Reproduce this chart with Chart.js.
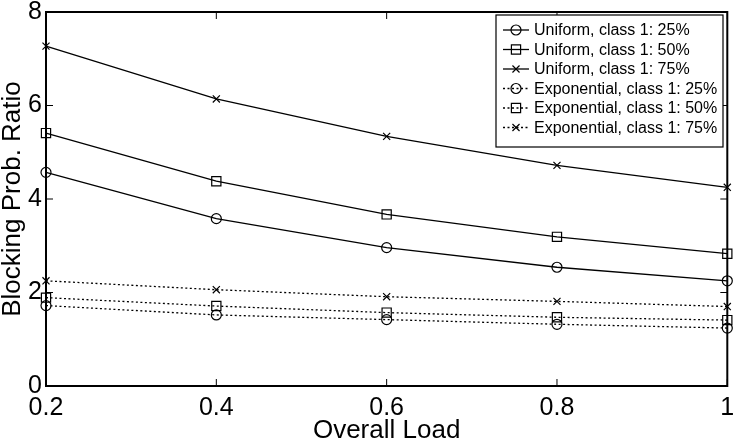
<!DOCTYPE html>
<html>
<head>
<meta charset="utf-8">
<script src="https://cdn.jsdelivr.net/npm/chart.js@4"></script>
<style>
  html, body { margin: 0; padding: 0; background: #fff; }
  #wrap { width: 735px; height: 446px; }
</style>
</head>
<body>
<div id="wrap"><canvas id="blockChart" width="735" height="446"></canvas></div>
<script>
// values
const loads = [0.2, 0.4, 0.6, 0.8, 1.0];
const xTicks = [0.2, 0.4, 0.6, 0.8, 1];
const yTicks = [0, 2, 4, 6, 8];

const uniform25 = [4.57, 3.58, 2.96, 2.54, 2.25];
const uniform50 = [5.41, 4.38, 3.67, 3.19, 2.83];
const uniform75 = [7.27, 6.14, 5.34, 4.72, 4.25];
const expo25 = [1.72, 1.52, 1.42, 1.32, 1.24];
const expo50 = [1.89, 1.71, 1.57, 1.47, 1.41];
const expo75 = [2.25, 2.06, 1.91, 1.81, 1.70];

const FONT = "'Liberation Sans', Arial, Helvetica, sans-serif";

const markerSize = { circle: 5, rect: 6.5, crossRot: 5 };

function series(label, values, marker, dotted) {
  return {
    label: label,
    data: loads.map((x, i) => ({ x: x, y: values[i] })),
    borderColor: "#000",
    borderWidth: 1.3,
    borderDash: dotted ? [2, 2.5] : [],
    pointStyle: marker,
    pointRadius: markerSize[marker],
    pointHoverRadius: markerSize[marker],
    pointBorderColor: "#000",
    pointBackgroundColor: "rgba(0,0,0,0)",
    pointBorderWidth: 1.2,
    tension: 0,
    fill: false,
    clip: false,
  };
}

const datasets = [
  series("Uniform, class 1: 25%", uniform25, "circle", false),
  series("Uniform, class 1: 50%", uniform50, "rect", false),
  series("Uniform, class 1: 75%", uniform75, "crossRot", false),
  series("Exponential, class 1: 25%", expo25, "circle", true),
  series("Exponential, class 1: 50%", expo50, "rect", true),
  series("Exponential, class 1: 75%", expo75, "crossRot", true),
];

// MATLAB style box: frame + inward ticks on all four sides
const boxFrame = {
  id: "boxFrame",
  afterDatasetsDraw(chart) {
    const { ctx, chartArea: a, scales } = chart;
    ctx.save();
    ctx.strokeStyle = "#000";
    ctx.lineWidth = 1;
    const len = 7;
    ctx.beginPath();
    scales.x.ticks.forEach((t) => {
      const px = scales.x.getPixelForValue(t.value);
      ctx.moveTo(px, a.bottom); ctx.lineTo(px, a.bottom - len);
      ctx.moveTo(px, a.top); ctx.lineTo(px, a.top + len);
    });
    scales.y.ticks.forEach((t) => {
      const py = scales.y.getPixelForValue(t.value);
      ctx.moveTo(a.left, py); ctx.lineTo(a.left + len, py);
      ctx.moveTo(a.right, py); ctx.lineTo(a.right - len, py);
    });
    ctx.stroke();
    ctx.lineWidth = 2;
    ctx.strokeRect(a.left, a.top, a.right - a.left, a.bottom - a.top);
    ctx.restore();
  },
};

// legend with line sample + marker, like the original
const lineLegend = {
  id: "lineLegend",
  afterDraw(chart) {
    const { ctx } = chart;
    const bx = 496, by = 15, bw = 227, bh = 132;
    ctx.save();
    ctx.fillStyle = "#fff";
    ctx.fillRect(bx, by, bw, bh);
    ctx.strokeStyle = "#000";
    ctx.lineWidth = 1.2;
    ctx.setLineDash([]);
    ctx.strokeRect(bx, by, bw, bh);
    ctx.font = "16px " + FONT;
    ctx.textBaseline = "middle";
    ctx.textAlign = "left";
    chart.data.datasets.forEach((ds, i) => {
      const cy = by + 15 + i * 19.5;
      ctx.strokeStyle = "#000";
      ctx.lineWidth = 1.3;
      ctx.setLineDash(ds.borderDash);
      ctx.beginPath();
      ctx.moveTo(bx + 7, cy);
      ctx.lineTo(bx + 33, cy);
      ctx.stroke();
      ctx.setLineDash([]);
      ctx.lineWidth = 1.2;
      ctx.fillStyle = "rgba(0,0,0,0)";
      Chart.helpers.drawPoint(ctx, {
        pointStyle: ds.pointStyle,
        radius: ds.pointRadius,
        rotation: 0,
        borderWidth: 1.2,
      }, bx + 20, cy);
      ctx.fillStyle = "#000";
      ctx.fillText(ds.label, bx + 38, cy + 1);
    });
    ctx.restore();
  },
};

new Chart(document.getElementById("blockChart"), {
  type: "line",
  data: { datasets: datasets },
  options: {
    responsive: false,
    animation: false,
    events: [],
    layout: { padding: { top: 12, right: 7, left: 0, bottom: 0 } },
    plugins: { legend: { display: false }, tooltip: { enabled: false } },
    scales: {
      x: {
        type: "linear",
        min: 0.2,
        max: 1,
        afterBuildTicks: (s) => { s.ticks = xTicks.map((v) => ({ value: v })); },
        afterFit: (s) => { s.height = 60; s.paddingLeft = 0; s.paddingRight = 0; },
        grid: { display: false, drawTicks: false },
        border: { display: false },
        ticks: {
          autoSkip: false,
          maxRotation: 0,
          padding: 7,
          color: "#000",
          font: { family: FONT, size: 25 },
          callback: (v) => String(Number(v.toFixed(1))),
        },
        title: {
          display: true,
          text: "Overall Load",
          color: "#000",
          font: { family: FONT, size: 26, lineHeight: 1 },
          padding: { top: 2, bottom: 2 },
        },
      },
      y: {
        min: 0,
        max: 8,
        afterBuildTicks: (s) => { s.ticks = yTicks.map((v) => ({ value: v })); },
        afterFit: (s) => { s.width = 46; s.paddingTop = 0; s.paddingBottom = 0; },
        grid: { display: false, drawTicks: false },
        border: { display: false },
        ticks: {
          padding: 4,
          color: "#000",
          font: { family: FONT, size: 25 },
        },
        title: {
          display: true,
          text: "Blocking Prob. Ratio",
          color: "#000",
          font: { family: FONT, size: 26, lineHeight: 1 },
          padding: { top: 0, bottom: 0 },
        },
      },
    },
  },
  plugins: [boxFrame, lineLegend],
});
</script>
</body>
</html>
